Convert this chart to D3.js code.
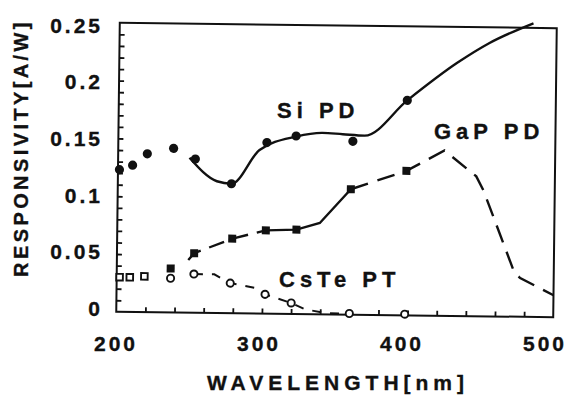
<!DOCTYPE html>
<html>
<head>
<meta charset="utf-8">
<script src="https://cdn.jsdelivr.net/npm/d3@7"></script>
<style>
  body { margin: 0; background: #fff; }
  svg text { font-family: "Liberation Sans", Arial, sans-serif; font-weight: bold; fill: #111; stroke: #111; stroke-width: 0.35; }
</style>
</head>
<body>
<div id="chart"></div>
<script>
// values (wavelength nm, responsivity A/W)
const siPointWl = [201, 210, 220, 238, 253, 278, 302, 322, 361, 398];
const siPointVal = [0.123, 0.127, 0.137, 0.142, 0.133, 0.112, 0.148, 0.154, 0.150, 0.186];
const siCurveWl = [249, 268, 278, 297, 322, 340, 354, 369, 398, 432, 454, 484];
const siCurveVal = [0.134, 0.114, 0.112, 0.1415, 0.1535, 0.157, 0.156, 0.155, 0.186, 0.219, 0.2365, 0.254];

const gapPointWl = [237, 253, 279, 302, 323, 360, 398];
const gapPointVal = [0.038, 0.0515, 0.0645, 0.072, 0.073, 0.1085, 0.125];
const gapCurveWl = [249, 253, 279, 302, 323, 339, 360, 398, 424, 446, 451, 473, 477, 500];
const gapCurveVal = [0.0456, 0.0515, 0.0645, 0.072, 0.073, 0.079, 0.1085, 0.125, 0.143, 0.121, 0.109, 0.038, 0.0335, 0.019];

const csteSquareWl = [202, 209, 219];
const csteSquareVal = [0.030, 0.030, 0.031];
const csteCircleWl = [237, 253, 278, 302, 320, 360, 398];
const csteCircleVal = [0.0296, 0.0335, 0.026, 0.0167, 0.0095, 0.001, 0.001];
const csteCurveWl = [253, 267, 278, 296, 302, 320, 330, 345, 360];
const csteCurveVal = [0.0335, 0.0335, 0.026, 0.022, 0.0167, 0.0095, 0.004, 0.001, 0.001];

const xTickValues = [200, 300, 400, 500];
const yTickValues = [0, 0.05, 0.1, 0.15, 0.2, 0.25];
const yTickLabels = ['0', '0.05', '0.1', '0.15', '0.2', '0.25'];

const zip = (a, b) => a.map((v, i) => ({wl: v, val: b[i]}));

let svgWidth = 578;
let svgHeight = 397;
let plot = {left: 118, top: 25.5, width: 437, height: 289};

let svg = d3.select('#chart').append('svg')
  .attr('width', svgWidth)
  .attr('height', svgHeight);

let x = d3.scaleLinear().domain([200, 500]).range([0, plot.width]);
let y = d3.scaleLinear().domain([0, 0.25]).range([plot.height, 0]);

// the scan is a touch rotated, so the frame is too
let g = svg.append('g')
  .attr('transform', `translate(${plot.left},${plot.top}) rotate(0.7, ${plot.width / 2}, ${plot.height / 2})`);

g.append('rect')
  .attr('width', plot.width)
  .attr('height', plot.height)
  .attr('fill', 'none')
  .attr('stroke', '#111')
  .attr('stroke-width', 2);

// inward minor ticks
let xTicksG = g.append('g')
  .attr('transform', `translate(0, ${plot.height})`)
  .call(d3.axisBottom(x).tickValues(d3.range(220, 500, 20)).tickSize(-5).tickFormat(''));
let yTicksG = g.append('g')
  .call(d3.axisLeft(y).tickValues(d3.range(1, 25).map(d => d / 100)).tickSize(-5).tickFormat(''));
[xTicksG, yTicksG].forEach(a => {
  a.select('.domain').remove();
  a.selectAll('line').attr('stroke', '#111').attr('stroke-width', 1.8);
});

let line = d3.line().x(d => x(d.wl)).y(d => y(d.val));

// Si PD
g.append('path')
  .datum(zip(siCurveWl, siCurveVal))
  .attr('d', line.curve(d3.curveMonotoneX))
  .attr('fill', 'none')
  .attr('stroke', '#111')
  .attr('stroke-width', 2.4);

// GaP PD, dashed with a solid stretch in the middle
let gapData = zip(gapCurveWl, gapCurveVal);
let lineLin = d3.line().x(d => x(d.wl)).y(d => y(d.val));
g.append('path')
  .datum(gapData.filter(d => d.wl <= 302))
  .attr('d', lineLin)
  .attr('fill', 'none')
  .attr('stroke', '#111')
  .attr('stroke-width', 2.4)
  .attr('stroke-dasharray', '16,9');
g.append('path')
  .datum(gapData.filter(d => d.wl >= 302 && d.wl <= 360))
  .attr('d', lineLin)
  .attr('fill', 'none')
  .attr('stroke', '#111')
  .attr('stroke-width', 2.4);
g.append('path')
  .datum(gapData.filter(d => d.wl >= 360))
  .attr('d', lineLin)
  .attr('fill', 'none')
  .attr('stroke', '#111')
  .attr('stroke-width', 2.4)
  .attr('stroke-dasharray', '18,10');

// CsTe PT
g.append('path')
  .datum(zip(csteCurveWl, csteCurveVal))
  .attr('d', lineLin)
  .attr('fill', 'none')
  .attr('stroke', '#111')
  .attr('stroke-width', 2)
  .attr('stroke-dasharray', '9,9');

g.selectAll('.si-dot')
  .data(zip(siPointWl, siPointVal))
  .enter()
  .append('circle')
  .attr('cx', d => x(d.wl))
  .attr('cy', d => y(d.val))
  .attr('r', 4.6)
  .attr('fill', '#111');

g.selectAll('.gap-sq')
  .data(zip(gapPointWl, gapPointVal))
  .enter()
  .append('rect')
  .attr('x', d => x(d.wl) - 4)
  .attr('y', d => y(d.val) - 4)
  .attr('width', 8)
  .attr('height', 8)
  .attr('fill', '#111');

g.selectAll('.cste-sq')
  .data(zip(csteSquareWl, csteSquareVal))
  .enter()
  .append('rect')
  .attr('x', d => x(d.wl) - 3.3)
  .attr('y', d => y(d.val) - 3.3)
  .attr('width', 6.6)
  .attr('height', 6.6)
  .attr('fill', '#fff')
  .attr('stroke', '#111')
  .attr('stroke-width', 1.9);

g.selectAll('.cste-dot')
  .data(zip(csteCircleWl, csteCircleVal))
  .enter()
  .append('circle')
  .attr('cx', d => x(d.wl))
  .attr('cy', d => y(d.val))
  .attr('r', 3.6)
  .attr('fill', '#fff')
  .attr('stroke', '#111')
  .attr('stroke-width', 1.9);

// tick labels sit a little off the frame in the scan
let xLabelScale = d3.scaleLinear().domain([200, 500]).range([114, 543]);
let yLabelScale = d3.scaleLinear().domain([0, 0.25]).range([308.5, 25.5]);

let xLab = svg.append('g')
  .attr('transform', 'translate(0, 336)')
  .call(d3.axisBottom(xLabelScale).tickValues(xTickValues).tickSize(0).tickPadding(0));
let yLab = svg.append('g')
  .attr('transform', 'translate(100, 0)')
  .call(d3.axisLeft(yLabelScale).tickValues(yTickValues).tickSize(0).tickPadding(0)
    .tickFormat((d, i) => yTickLabels[i]));
[xLab, yLab].forEach(a => {
  a.select('.domain').remove();
  a.selectAll('text')
    .attr('font-family', '"Liberation Sans", Arial, sans-serif')
    .attr('font-weight', 'bold')
    .attr('font-size', 21)
    .attr('letter-spacing', 3)
    .attr('fill', '#111');
});
yLab.selectAll('text').attr('dx', 3);
xLab.selectAll('text').attr('dx', 1.5);

svg.append('text')
  .attr('transform', 'translate(28, 148) rotate(-90)')
  .attr('text-anchor', 'middle')
  .attr('font-size', 20)
  .attr('letter-spacing', 3.4)
  .text('RESPONSIVITY[A/W]');

svg.append('text')
  .attr('x', 338)
  .attr('y', 390)
  .attr('text-anchor', 'middle')
  .attr('font-size', 21)
  .attr('letter-spacing', 5)
  .text('WAVELENGTH[nm]');

let seriesLabels = [
  {text: 'Si PD', x: 277, y: 118},
  {text: 'GaP PD', x: 434, y: 139},
  {text: 'CsTe PT', x: 279, y: 287}
];
svg.selectAll('.series-label')
  .data(seriesLabels)
  .enter()
  .append('text')
  .attr('x', d => d.x)
  .attr('y', d => d.y)
  .attr('font-size', 22)
  .attr('letter-spacing', 5)
  .text(d => d.text);
</script>
</body>
</html>
